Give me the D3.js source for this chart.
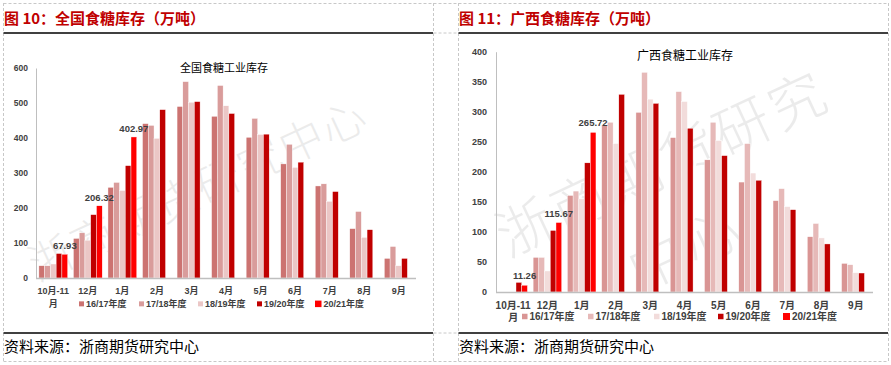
<!DOCTYPE html>
<html><head><meta charset="utf-8">
<script src="https://cdn.jsdelivr.net/npm/d3@7"></script>
<style>body{margin:0;background:#fff;}</style>
</head><body>
<script>
// ---------- data ----------
const categories = ["10月-11月","12月","1月","2月","3月","4月","5月","6月","7月","8月","9月"];
const seasons = ["16/17年度","17/18年度","18/19年度","19/20年度","20/21年度"];
const yTicksNational = [0,100,200,300,400,500,600];
const yTicksGuangxi = [0,50,100,150,200,250,300,350,400];

// 全国食糖工业库存 (万吨)
const nat1617 = [35,113,259,441,490,462,402,326,263,141,56];
const nat1718 = [35,129,273,436,561,550,456,382,269,190,90];
const nat1819 = [40,108,250,399,502,492,410,316,219,116,35];
const nat1920 = [70,181,321,481,504,470,411,331,247,138,56];
const nat2021 = [67.93,206.32,402.97,null,null,null,null,null,null,null,null];

// 广西食糖工业库存 (万吨)
const gx1617 = [null,57.6,160.7,278,299,257,220,183,152,92,47.6];
const gx1718 = [null,57.6,168,282.5,365.6,333.5,282.5,247,172,114,45.4];
const gx1819 = [null,35,155,247,321,317,252,198,142,90,32];
const gx1920 = [16,102.5,215,329,314,272.6,227,186,137,80,31.6];
const gx2021 = [11.26,115.67,265.72,null,null,null,null,null,null,null,null];

const W = 891, H = 365;
const svg = d3.select("body").append("svg").attr("width", W).attr("height", H)
  .style("font-family", "'Liberation Sans','Noto Sans CJK SC',sans-serif");

// ---------- frame ----------
const dash = "#c8c8c8";
[[3.5,3.5,888.5,3.5],[3.5,361.5,888.5,361.5],[433.5,33,458.5,33],[433.5,333,458.5,333]].forEach(d=>{
  svg.append("line").attr("x1",d[0]).attr("y1",d[1]).attr("x2",d[2]).attr("y2",d[3])
    .attr("stroke",dash).attr("stroke-dasharray","3,2");
});
[3.5,433.5,458.5,888.5].forEach(x=>{
  svg.append("line").attr("x1",x).attr("y1",3).attr("x2",x).attr("y2",362)
    .attr("stroke",dash).attr("stroke-dasharray","3,2");
});
[[3.5,433],[458.5,888]].forEach(d=>{
  svg.append("line").attr("x1",d[0]).attr("x2",d[1]).attr("y1",33).attr("y2",33).attr("stroke","#000").attr("stroke-width",1.5);
  svg.append("line").attr("x1",d[0]).attr("x2",d[1]).attr("y1",333).attr("y2",333).attr("stroke","#000").attr("stroke-width",1.5);
});

function panel(cfg){
  const g = svg.append("g");
  // title
  g.append("text").attr("x",cfg.titleX).attr("y",24).text(cfg.title)
    .attr("fill","#c00000").attr("font-weight","bold").attr("font-size",15)
    .style("font-family","'Noto Sans CJK SC',sans-serif");
  // footer
  g.append("text").attr("x",cfg.titleX).attr("y",352).text("资料来源：浙商期货研究中心")
    .attr("fill","#000").attr("font-size",15)
    .style("font-family","'Noto Sans CJK SC',sans-serif");

  // watermark
  cfg.watermark.forEach(w=>{
    g.append("text").attr("transform",`translate(${w.x},${w.y}) rotate(${w.r})`)
      .text(w.t).attr("font-size",w.fs).attr("fill","#000").attr("opacity",0.075)
      .attr("font-weight",300)
      .style("font-family","'Noto Sans CJK SC',sans-serif").style("letter-spacing", w.ls+"px");
  });

  const x = d3.scaleBand().domain(categories).range([cfg.x0, cfg.x1]).padding(0);
  const bw = x.bandwidth();
  const xs = d3.scaleBand().domain(seasons).range([bw/12, bw - bw/12]).padding(0);
  const y = d3.scaleLinear().domain([0, cfg.yMax]).range([cfg.y0, cfg.yTop]);

  // y axis
  const ya = g.append("g").attr("transform",`translate(${cfg.x0},0)`)
    .call(d3.axisLeft(y).tickValues(cfg.ticks).tickSize(0).tickPadding(cfg.tickPad));
  ya.select(".domain").attr("stroke","#bfbfbf");
  ya.selectAll("text").attr("font-size",cfg.tickFs).attr("font-weight","bold").attr("fill","#404040")
    .style("font-family","'Liberation Sans',sans-serif");

  // chart title
  g.append("text").attr("x",cfg.ctX).attr("y",cfg.ctY).attr("text-anchor","middle")
    .text(cfg.chartTitle).attr("font-size",cfg.ctFs).attr("fill","#000")
    .style("font-family","'Noto Sans CJK SC',sans-serif");

  // bars
  const series = cfg.series;
  series.forEach((vals, si)=>{
    g.append("g").selectAll("rect").data(vals.map((v,i)=>({v, c:categories[i]})).filter(d=>d.v!=null))
      .join("rect")
      .attr("x", d=>x(d.c)+xs(seasons[si]))
      .attr("width", xs.bandwidth())
      .attr("y", d=>y(d.v))
      .attr("height", d=>cfg.y0 - y(d.v))
      .attr("fill", cfg.colors[si])
      .attr("stroke","#fff").attr("stroke-width",0.4);
  });

  // x axis line
  g.append("line").attr("x1",cfg.x0).attr("x2",cfg.x1).attr("y1",cfg.y0+0.5).attr("y2",cfg.y0+0.5)
    .attr("stroke","#bfbfbf").attr("stroke-width",1.5);

  // data labels for the latest season
  const last = series[4];
  g.append("g").selectAll("text").data(last.map((v,i)=>({v,c:categories[i]})).filter(d=>d.v!=null))
    .join("text")
    .attr("x", d=>x(d.c)+xs(seasons[4])+xs.bandwidth()/2)
    .attr("y", d=>y(d.v)-cfg.lblOff)
    .attr("text-anchor","middle").text(d=>d.v.toFixed(2))
    .attr("font-size",cfg.lblFs).attr("font-weight","bold").attr("fill","#404040")
    .style("font-family","'Liberation Sans',sans-serif");

  // x labels
  const xl = g.append("g").selectAll("text").data(categories).join("text")
    .attr("x", d=>x(d)+bw/2).attr("y", cfg.xlY)
    .attr("text-anchor","middle").attr("font-size",cfg.xlFs).attr("font-weight","bold").attr("fill","#404040")
    .style("font-family","'Liberation Sans','Noto Sans CJK SC',sans-serif");
  xl.each(function(d){
    const t = d3.select(this);
    if (d.length > 4) {
      t.append("tspan").attr("x", x(d)+bw/2).text(d.slice(0,-1));
      t.append("tspan").attr("x", x(d)+bw/2).attr("dy", cfg.xlDy).text(d.slice(-1));
    } else t.text(d);
  });

  // legend
  seasons.forEach((s,i)=>{
    const lx = cfg.legX[i];
    const sz = i===4 ? cfg.legSz+1.5 : cfg.legSz;
    g.append("rect").attr("x",lx).attr("y",cfg.legY - sz/2 - cfg.legFs*0.35).attr("width",sz).attr("height",sz)
      .attr("fill",cfg.colors[i]);
    g.append("text").attr("x",lx+sz+2).attr("y",cfg.legY).text(s)
      .attr("font-size",cfg.legFs).attr("font-weight","bold").attr("fill","#404040")
      .style("font-family","'Liberation Sans','Noto Sans CJK SC',sans-serif");
  });
}

panel({
  title:"图 10：全国食糖库存（万吨）", titleX:4,
  chartTitle:"全国食糖工业库存", ctX:224, ctY:72, ctFs:11,
  x0:36, x1:416, y0:278, yTop:68, yMax:600, ticks:yTicksNational, tickPad:8, tickFs:8.5,
  series:[nat1617,nat1718,nat1819,nat1920,nat2021],
  colors:["#cc7371","#d99c9b","#ebc7c6","#c00000","#ff0000"],
  lblOff:5, lblFs:9.5,
  xlY:294, xlDy:13, xlFs:9,
  legX:[79,139,198,257,315], legY:307, legFs:9, legSz:5,
  watermark:[{x:38,y:282,r:-25,t:"浙商期货研究中心",fs:44,ls:2}]
});

panel({
  title:"图 11：广西食糖库存（万吨）", titleX:459,
  chartTitle:"广西食糖工业库存", ctX:685, ctY:60, ctFs:12,
  x0:496, x1:873, y0:292, yTop:51.7, yMax:400, ticks:yTicksGuangxi, tickPad:9, tickFs:9,
  series:[gx1617,gx1718,gx1819,gx1920,gx2021],
  colors:["#d99594","#e6b9b8","#f2dcdb","#c00000","#ff0000"],
  lblOff:6, lblFs:9.5,
  xlY:309, xlDy:11.5, xlFs:10,
  legX:[522,588,654,718,783], legY:320, legFs:10, legSz:5.5,
  watermark:[{x:508,y:258,r:-25,t:"浙商期货研究",fs:56,ls:4},{x:640,y:292,r:-25,t:"中心",fs:56,ls:4}]
});
</script>
</body></html>
